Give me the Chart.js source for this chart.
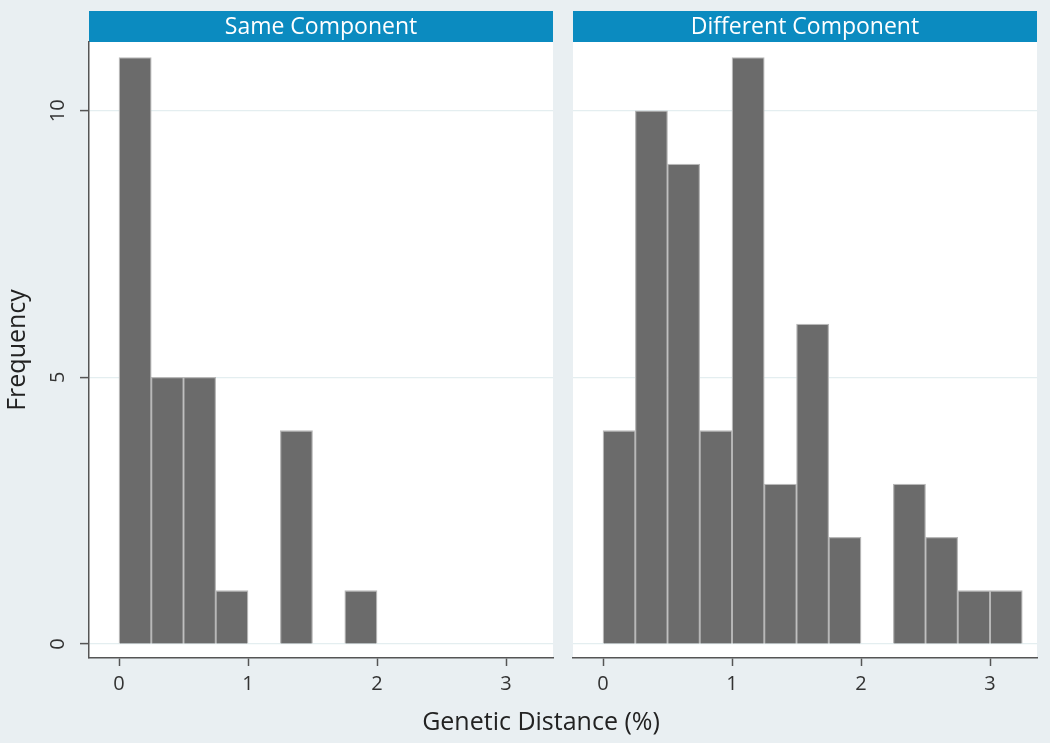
<!DOCTYPE html>
<html><head><meta charset="utf-8">
<script src="https://cdn.jsdelivr.net/npm/chart.js@4.4.0/dist/chart.umd.min.js"></script>
<style>
html,body{margin:0;padding:0;background:#e9eff2;width:1050px;height:743px;overflow:hidden;font-family:"Open Sans",sans-serif;}
.w{position:absolute;top:0;height:743px;}
#xt{position:absolute;left:291px;width:500px;top:705px;line-height:30px;text-align:center;font-size:25px;color:#222;}
</style></head><body>
<div class="w" style="left:0;width:560px"><canvas id="c1"></canvas></div>
<div class="w" style="left:560px;width:490px"><canvas id="c2"></canvas></div>
<div id="xt">Genetic Distance (%)</div>
<script>
const binStarts = [0, 0.25, 0.5, 0.75, 1.0, 1.25, 1.5, 1.75, 2.0, 2.25, 2.5, 2.75, 3.0];
const binWidth = 0.25;
const sameCounts = [11, 5, 5, 1, 0, 4, 0, 1, 0, 0, 0, 0, 0];
const diffCounts = [4, 10, 9, 4, 11, 3, 6, 2, 0, 3, 2, 1, 1];
const xTicks = [0, 1, 2, 3];
const yTicks = [0, 5, 10];
const panelTitles = ['Same Component', 'Different Component'];
const xTitle = 'Genetic Distance (%)';
const yTitle = 'Frequency';

const X_MIN = -0.2326, X_MAX = 3.364, Y_MIN = -0.263, Y_MAX = 11.29;
const FONT = '"Open Sans", sans-serif';

const panelPlugin = {
  id: 'panel',
  beforeDraw(chart, args, opts) {
    const {ctx, chartArea: a} = chart;
    ctx.save();
    ctx.fillStyle = '#ffffff';
    ctx.fillRect(a.left, a.top, a.right - a.left, a.bottom - a.top);
    ctx.fillStyle = '#0b8bc0';
    ctx.fillRect(a.left, 11, a.right - a.left, a.top - 11);
    ctx.fillStyle = '#ffffff';
    ctx.font = '23px ' + FONT;
    ctx.textAlign = 'center';
    ctx.textBaseline = 'middle';
    ctx.fillText(opts.text, (a.left + a.right) / 2, (11 + a.top) / 2 + 0.5);
    ctx.restore();
  }
};

function makeChart(id, counts, title, isLeft) {
  const data = binStarts.map((s, i) => ({x: s + binWidth / 2, y: counts[i]}));
  return new Chart(document.getElementById(id), {
    type: 'bar',
    data: {datasets: [{
      data,
      backgroundColor: '#6b6b6b',
      borderColor: '#b8b8b8',
      borderWidth: 1.3,
      barPercentage: 1,
      categoryPercentage: 1
    }]},
    plugins: [panelPlugin],
    options: {
      responsive: true,
      maintainAspectRatio: false,
      animation: false,
      layout: {padding: {left: 0, right: isLeft ? 7 : 13, top: 42, bottom: 0}},
      plugins: {
        legend: {display: false},
        tooltip: {enabled: false},
        panel: {text: title}
      },
      scales: {
        x: {
          type: 'linear',
          offset: false,
          min: X_MIN, max: X_MAX,
          afterBuildTicks: s => { s.ticks = xTicks.map(v => ({value: v})); },
          afterFit: s => { s.height = 85; },
          grid: {display: true, drawOnChartArea: false, drawTicks: true, tickLength: 8, tickColor: '#555', tickWidth: 1.5, offset: false},
          border: {display: true, color: '#555', width: 1.5},
          ticks: {font: {family: FONT, size: 20}, color: '#333', padding: 6, maxRotation: 0, includeBounds: false}
        },
        y: {
          min: Y_MIN, max: Y_MAX,
          afterBuildTicks: s => { s.ticks = yTicks.map(v => ({value: v})); },
          afterFit: s => { s.width = isLeft ? 89 : 13; },
          grid: {display: true, drawOnChartArea: true, color: '#e4eef0', lineWidth: 1.2, drawTicks: isLeft, tickLength: 9, tickColor: '#555', tickWidth: 1.5},
          border: {display: isLeft, color: '#555', width: 1.5},
          ticks: {display: isLeft, font: {family: FONT, size: 20}, color: '#333', padding: 10, minRotation: 90, maxRotation: 90, crossAlign: 'center', includeBounds: false},
          title: {display: isLeft, text: yTitle, font: {family: FONT, size: 25}, color: '#222', padding: {top: 3, bottom: 0}}
        }
      }
    }
  });
}

document.getElementById('xt').textContent = xTitle;
makeChart('c1', sameCounts, panelTitles[0], true);
makeChart('c2', diffCounts, panelTitles[1], false);
</script>
</body></html>
